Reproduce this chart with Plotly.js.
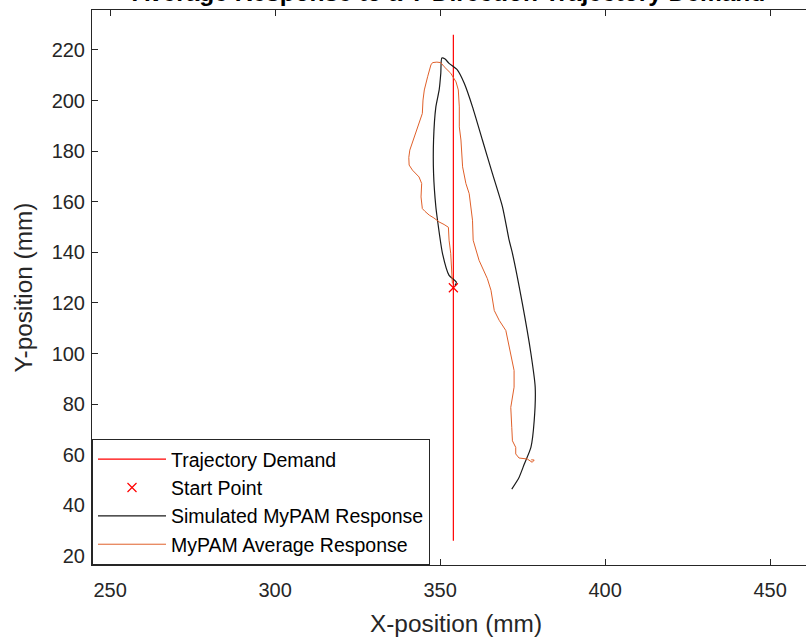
<!DOCTYPE html>
<html>
<head>
<meta charset="utf-8">
<script src="https://cdn.plot.ly/plotly-3.0.1.min.js"></script>
<style>html,body{margin:0;padding:0;overflow:hidden;background:#fff;}#chart{width:820px;height:639px;}</style>
</head>
<body>
<div id="chart"></div>
<script>
// Trajectory demand (vertical line)
const trajX = [354, 354];
const trajY = [26, 226];
// Start point
const startX = [354];
const startY = [126];
// Simulated MyPAM response
const simX = [354.5, 354.9, 352.7, 350.7, 349.2, 348.7, 348.0, 348.0, 348.7, 349.7, 350.2, 350.5, 351.5, 352.7, 355.2, 357.3, 359.8, 362.8, 365.8, 368.9, 370.9, 371.9, 374.9, 377.5, 378.8, 378.5, 377.5, 375.5, 373.9, 371.7];
const simY = [127.0, 128.2, 130.9, 139.6, 152.7, 157.9, 171.3, 184.4, 197.5, 204.2, 210.9, 216.8, 216.4, 214.7, 212.1, 206.8, 197.5, 184.4, 171.3, 157.9, 144.8, 139.6, 119.8, 100.0, 86.7, 73.5, 62.9, 56.3, 51.0, 46.4];
// MyPAM average response
const avgX = [353.7, 353.5, 353.2, 352.7, 352.5, 351.2, 349.7, 348.1, 346.7, 345.4, 344.6, 344.2, 344.4, 343.6, 342.4, 341.6, 340.6, 340.5, 340.8, 341.5, 342.1, 343.6, 344.6, 344.8, 345.2, 346.2, 347.2, 347.7, 349.0, 350.2, 351.2, 353.2, 354.8, 355.5, 355.8, 355.8, 356.3, 356.8, 357.8, 358.8, 359.3, 359.8, 360.0, 361.8, 364.3, 365.4, 366.4, 367.9, 369.9, 371.4, 372.4, 372.4, 371.4, 371.7, 371.9, 372.9, 372.9, 373.9, 376.4, 377.9, 378.5, 377.6];
const avgY = [127.7, 133.5, 139.6, 144.8, 149.9, 151.0, 152.0, 153.6, 154.7, 156.2, 157.3, 161.9, 167.2, 169.8, 171.2, 172.5, 174.5, 177.5, 180.4, 183.0, 185.7, 191.0, 194.9, 200.2, 204.2, 209.4, 214.1, 215.0, 215.2, 215.0, 213.4, 210.8, 207.4, 204.2, 197.5, 189.6, 184.4, 173.8, 167.2, 163.2, 157.9, 152.7, 144.8, 136.8, 129.6, 125.0, 117.0, 113.1, 109.1, 99.9, 93.3, 86.7, 78.7, 70.8, 65.5, 62.9, 60.3, 58.7, 58.3, 57.0, 57.9, 58.0];
const xTicks = [250, 300, 350, 400, 450];
const yTicks = [20, 40, 60, 80, 100, 120, 140, 160, 180, 200, 220];

const FONT = 'Liberation Sans, Arial, sans-serif';
const TXT = '#262626';

const traces = [
  {x: trajX, y: trajY, mode: 'lines', name: 'Trajectory Demand', legendgroup: 'a',
   line: {color: '#ff0000', width: 1.2}},
  {x: startX, y: startY, mode: 'markers', name: 'Start Point', legendgroup: 'b',
   marker: {symbol: 'x-thin', size: 9, color: '#ff0000', line: {color: '#ff0000', width: 1.2}}},
  {x: simX, y: simY, mode: 'lines', name: 'Simulated MyPAM Response', legendgroup: 'c',
   line: {color: '#1a1a1a', width: 1.2, shape: 'spline', smoothing: 0.6}},
  {x: avgX, y: avgY, mode: 'lines', name: 'MyPAM Average Response', legendgroup: 'd',
   line: {color: '#e0602a', width: 1}}
];

const axisCommon = {
  showgrid: false, zeroline: false, showline: true, linecolor: TXT, linewidth: 1,
  mirror: 'ticks', ticks: 'inside', ticklen: 6, tickcolor: TXT, tickwidth: 1,
  tickfont: {family: FONT, size: 20, color: TXT}
};

const layout = {
  width: 820, height: 639,
  margin: {l: 92, r: 0, t: 10, b: 74},
  paper_bgcolor: '#ffffff', plot_bgcolor: '#ffffff',
  font: {family: FONT, color: TXT},
  title: {text: '<b>Average Response to a Y-Direction Trajectory Demand</b>',
          font: {family: FONT, size: 24.5, color: '#000'},
          x: 0.49, xref: 'paper', y: 0.999, yref: 'container', yanchor: 'bottom'},
  xaxis: Object.assign({}, axisCommon, {
    range: [244.5, 465.1], tickvals: xTicks, ticklabelstandoff: 7,
    title: {text: 'X-position (mm)', font: {family: FONT, size: 24.4, color: TXT}, standoff: 14}
  }),
  yaxis: Object.assign({}, axisCommon, {
    range: [16.4, 235.8], tickvals: yTicks, ticklabelstandoff: 2,
    title: {text: 'Y-position (mm)', font: {family: FONT, size: 24.4, color: TXT}, standoff: 12}
  }),
  showlegend: true,
  legend: {x: 0, y: 0, xanchor: 'left', yanchor: 'bottom', bgcolor: '#ffffff',
           bordercolor: TXT, borderwidth: 1, itemwidth: 68, tracegroupgap: 0,
           font: {family: FONT, size: 19.5, color: '#000'}}
};

Plotly.newPlot('chart', traces, layout, {displayModeBar: false, staticPlot: true});
</script>
</body>
</html>
